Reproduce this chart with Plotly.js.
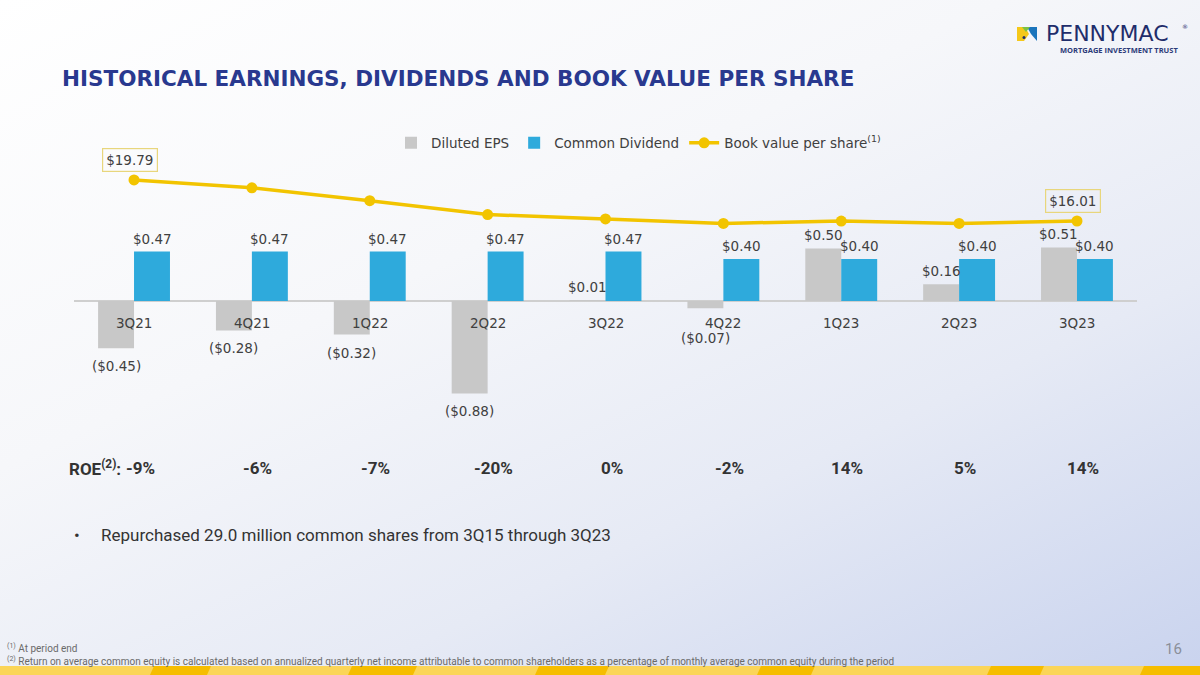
<!DOCTYPE html>
<html><head><meta charset="utf-8">
<script src="https://cdn.plot.ly/plotly-3.0.1.min.js"></script>
<style>
html,body{margin:0;padding:0;width:1200px;height:675px;overflow:hidden;}
body{background:linear-gradient(155deg,#ffffff 0%,#f6f7fa 38%,#e6eaf5 68%,#c9d3ee 100%);}
#chart{width:1200px;height:675px;}
</style></head><body><div id="chart"></div>
<script>
// ---- data ----
const quarters = ['3Q21','4Q21','1Q22','2Q22','3Q22','4Q22','1Q23','2Q23','3Q23'];
const dilutedEPS = [-0.45,-0.28,-0.32,-0.88,0.01,-0.07,0.50,0.16,0.51];
const commonDividend = [0.47,0.47,0.47,0.47,0.47,0.40,0.40,0.40,0.40];
const bookValue = [19.79,19.07,17.88,16.60,16.20,15.79,16.00,15.79,16.01];
const roe = ['-9%','-6%','-7%','-20%','0%','-2%','14%','5%','14%'];
const seriesNames = ['Diluted EPS','Common Dividend','Book value per share'];
const titleText = 'HISTORICAL EARNINGS, DIVIDENDS AND BOOK VALUE PER SHARE';
const bulletText = 'Repurchased 29.0 million common shares from 3Q15 through 3Q23';
const footnotes = ['<sup>(1)</sup> At period end',
  '<sup>(2)</sup> Return on average common equity is calculated based on annualized quarterly net income attributable to common shareholders as a percentage of monthly average common equity during the period'];

// ---- geometry helpers ----
const L=74, R=1137, T=100, B=440;
const PW=R-L, PH=B-T;
const px = x => (x-L)/PW;
const py = y => (B-y)/PH;
const fmt = v => v<0 ? '($'+Math.abs(v).toFixed(2)+')' : '$'+v.toFixed(2);

const FONT = 'DejaVu Sans, sans-serif';
const RFONT = 'Roboto, sans-serif';
const TXT = '#404040';

const traces = [
  {type:'bar', name:seriesNames[0], x:quarters, y:dilutedEPS, marker:{color:'#c8c8c8'}, hoverinfo:'skip'},
  {type:'bar', name:seriesNames[1], x:quarters, y:commonDividend, marker:{color:'#2eaadc'}, hoverinfo:'skip'},
  {type:'scatter', mode:'lines+markers', name:seriesNames[2]+'<sup>(1)</sup>', x:quarters, y:bookValue, yaxis:'y2',
   line:{color:'#f2c400', width:3.5}, marker:{color:'#f2c400', size:11}, hoverinfo:'skip'}
];

const ann = [];
const A = o => ann.push(Object.assign({showarrow:false, xanchor:'center', yanchor:'middle'}, o));
quarters.forEach((q,i)=>{
  A({x:q, y:0, xref:'x', yref:'y', text:q, yshift:-22, font:{family:FONT,size:13.5,color:TXT}});
  const e = dilutedEPS[i];
  A({x:q, y: e>=0 ? e : Math.min(e,-0.18), xref:'x', yref:'y', xshift:-18, yshift: e>=0 ? 13 : -18,
    text:fmt(e), font:{family:FONT,size:13.5,color:TXT}});
  const d = commonDividend[i];
  A({x:q, y:d, xref:'x', yref:'y', xshift:18, yshift:13, text:fmt(d), font:{family:FONT,size:13.5,color:TXT}});
  A({x:q, y:py(468), xref:'x', yref:'paper', xshift:6, text:'<b>'+roe[i]+'</b>', font:{family:RFONT,size:17,color:'#333333'}});
});
[0, quarters.length-1].forEach(i=>{
  A({x:quarters[i], y:bookValue[i], xref:'x', yref:'y2', yshift:20, xshift:-4, text:fmt(bookValue[i]),
    bordercolor:'#e8d67c', borderwidth:1.2, borderpad:3, font:{family:FONT,size:13.5,color:TXT}});
});
A({x:px(67), y:py(468), xref:'paper', yref:'paper', xanchor:'left', text:'<b>ROE<sup>(2)</sup>:</b>', font:{family:RFONT,size:17,color:'#333333'}});
A({x:px(72), y:py(535), xref:'paper', yref:'paper', xanchor:'left', text:'•', font:{family:RFONT,size:17,color:'#333333'}});
A({x:px(99), y:py(535), xref:'paper', yref:'paper', xanchor:'left', text:bulletText, font:{family:RFONT,size:17,color:'#333333'}});
A({x:px(5), y:py(648), xref:'paper', yref:'paper', xanchor:'left', text:footnotes[0], font:{family:RFONT,size:10,color:'#6a6a6a'}});
A({x:px(5), y:py(661), xref:'paper', yref:'paper', xanchor:'left', text:footnotes[1], font:{family:RFONT,size:10,color:'#6a6a6a'}});
A({x:px(1173), y:py(649), xref:'paper', yref:'paper', text:'16', font:{family:RFONT,size:15,color:'#8a8f99'}});
// logo text
A({x:px(1044), y:py(33), xref:'paper', yref:'paper', xanchor:'left', text:'PENNYMAC', font:{family:FONT,size:22,color:'#1f2d6b'}});
A({x:px(1185), y:py(26), xref:'paper', yref:'paper', text:'®', font:{family:FONT,size:6,color:'#1f2d6b'}});
A({x:px(1180), y:py(50), xref:'paper', yref:'paper', xanchor:'right', text:'<b>MORTGAGE INVESTMENT TRUST</b>', font:{family:'Open Sans, sans-serif',size:7.5,color:'#2c3a78'}});

// shapes
const path = pts => 'M'+pts.map(p=>px(p[0])+','+py(p[1])).join(' L')+' Z';
const shapes = [
  {type:'path', xref:'paper', yref:'paper', path:path([[1017,27],[1025,27],[1029,34],[1024,41],[1017,41]]), fillcolor:'#f5c81a', line:{width:0}},
  {type:'path', xref:'paper', yref:'paper', path:path([[1027,27],[1037,27],[1037,41],[1031,34]]), fillcolor:'#1b75bc', line:{width:0}},
  {type:'path', xref:'paper', yref:'paper', path:path([[1022,27],[1030,27],[1026,32]]), fillcolor:'#7cc242', line:{width:0}},
  {type:'circle', xref:'paper', yref:'paper', x0:px(1022.5), x1:px(1025.5), y0:py(39), y1:py(36), fillcolor:'#1f2d6b', line:{width:0}},
  {type:'rect', xref:'paper', yref:'paper', x0:px(0), x1:px(1200), y0:py(675), y1:py(666), fillcolor:'#fbd558', line:{width:0}}
];
[[150,207],[348,413],[535,605],[757,811],[987,1040],[1140,1200]].forEach(s=>{
  shapes.push({type:'path', xref:'paper', yref:'paper', path:path([[s[0]+4,666],[s[1]+4,666],[s[1],675],[s[0],675]]), fillcolor:'#f6bd00', line:{width:0}});
});

const layout = {
  width:1200, height:675,
  margin:{l:L, r:1200-R, t:T, b:675-B, pad:0},
  paper_bgcolor:'rgba(0,0,0,0)', plot_bgcolor:'rgba(0,0,0,0)',
  barmode:'group', bargap:0.39, bargroupgap:0,
  title:{text:'<b>'+titleText+'</b>', xref:'container', yref:'container', x:62/1200, xanchor:'left', y:1-78/675, yanchor:'middle',
    font:{family:FONT, size:21.5, color:'#29398f'}},
  xaxis:{type:'category', showticklabels:false, ticks:'', showgrid:false, showline:false, zeroline:false, fixedrange:true},
  yaxis:{range:[-1.324,1.914], visible:true, showticklabels:false, ticks:'', showgrid:false, showline:false,
    zeroline:true, zerolinecolor:'#cfcfcf', zerolinewidth:1.5, fixedrange:true},
  yaxis2:{range:[-4.17,27.16], overlaying:'y', side:'right', visible:false, fixedrange:true},
  legend:{orientation:'h', x:px(391), xanchor:'left', y:py(143), yanchor:'middle', bgcolor:'rgba(0,0,0,0)',
    font:{family:FONT, size:13.5, color:TXT}, itemwidth:30, traceorder:'normal'},
  annotations:ann, shapes:shapes, showlegend:true
};
Plotly.newPlot('chart', traces, layout, {displayModeBar:false, staticPlot:true});
</script></body></html>
